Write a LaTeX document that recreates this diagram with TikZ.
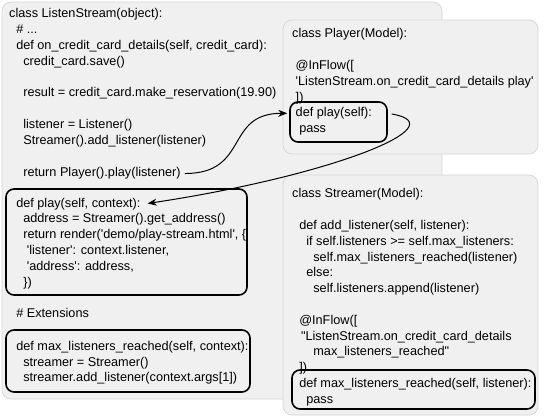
\documentclass[tikz,border=0pt]{standalone}
\usepackage{fontspec}
\setmainfont{Liberation Sans}
\usetikzlibrary{arrows.meta,positioning}
\newcommand{\ind}[1]{\hspace*{#1\fontdimen2\font}}
\newcommand{\sq}{\textquotesingle}
\newcommand{\dq}{\textquotedbl}
\tikzset{
	classbox/.style={rectangle, draw=black!17, fill=black!6, rounded corners=9pt, line width=0.7pt, inner sep=0pt},
	codebox/.style={rectangle, draw=black, line width=1.6pt, rounded corners=8pt, inner sep=0pt},
	codetext/.style={anchor=north west, inner sep=0pt, align=left, font=\fontsize{12.7}{15.8}\selectfont},
	flowarr/.style={-{Stealth[length=9pt, width=7pt]}, line width=1pt}
}

\begin{document}
\begin{tikzpicture}[x=1pt, y=-1pt]
	\useasboundingbox (0,0) rectangle (544,418);
	% class boxes
	\node[classbox, minimum width=440pt, minimum height=397pt] (lsbox) at (222,200.5) {};
	\node[classbox, minimum width=255pt, minimum height=134pt] (plbox) at (410.5,87) {};
	\node[classbox, minimum width=255pt, minimum height=240pt] (stbox) at (410.5,295) {};
	% framed methods
	\node[codebox, minimum width=241pt, minimum height=106pt] (lsplay) at (126.5,242) {};
	\node[codebox, minimum width=244pt, minimum height=62pt] (lsmax) at (128,361) {};
	\node[codebox, minimum width=97pt, minimum height=40pt] (plplay) at (338.5,122) {};
	\node[codebox, minimum width=243pt, minimum height=39pt] (stmax) at (413.5,389.5) {};
	% ListenStream
	\node[codetext] (lshead) at (9,8.4) {class ListenStream(object):\\
		\ind{2}\# ...\\
		\ind{2}def on\_credit\_card\_details(self, credit\_card):\\
		\ind{4}credit\_card.save()\\[15.8pt]
		\ind{4}result = credit\_card.make\_reservation(19.90)\\[15.8pt]
		\ind{4}listener = Listener()\\
		\ind{4}Streamer().add\_listener(listener)};
	\node[codetext] (lsret) at (9,167.4) {\ind{4}return Player().play(listener)};
	\node[codetext] (lsplaydef) at (9,198.4) {\ind{2}def play(self, context):};
	\node[codetext] (lsplaybody) at (9,213.4) {\ind{4}address = Streamer().get\_address()\\
		\ind{4}return render(\sq demo/play-stream.html\sq, \{\\
		\ind{5}\sq listener\sq: context.listener,\\
		\ind{5}\sq address\sq: address,\\
		\ind{4}\})};
	\node[codetext] (lsext) at (9,308.4) {\ind{2}\# Extensions};
	\node[codetext] (lsmaxcode) at (9,340.9) {\ind{2}def max\_listeners\_reached(self, context):\\
		\ind{4}streamer = Streamer()\\
		\ind{4}streamer.add\_listener(context.args[1])};
	% Player
	\node[codetext] (plcode) at (292,28.4) {class Player(Model):\\[15.8pt]
		\ind{1}@InFlow([\\
		\ind{1}\sq ListenStream.on\_credit\_card\_details play\sq\\
		\ind{1}])\\
		\ind{1}def play(self):\\
		\ind{2}pass};
	% Streamer
	\node[codetext] (stcode) at (292,188.4) {class Streamer(Model):\\[15.8pt]
		\ind{2}def add\_listener(self, listener):\\
		\ind{4}if self.listeners >= self.max\_listeners:\\
		\ind{6}self.max\_listeners\_reached(listener)\\
		\ind{4}else:\\
		\ind{6}self.listeners.append(listener)\\[15.8pt]
		\ind{2}@InFlow([\\
		\ind{2.5}\dq ListenStream.on\_credit\_card\_details\\
		\ind{6}max\_listeners\_reached\dq\\
		\ind{2}])\\
		\ind{2}def max\_listeners\_reached(self, listener):\\
		\ind{4}pass};
	% flow
	\draw[flowarr, shorten <=4pt, shorten >=2pt] (lsret.east) .. controls +(69,0) and +(-65,0) .. (plplay.170);
	\draw[flowarr, shorten <=4pt, shorten >=7pt] (plplay.10) .. controls +(70,12) and +(192,-29) .. (lsplaydef.east);
\end{tikzpicture}
\end{document}
